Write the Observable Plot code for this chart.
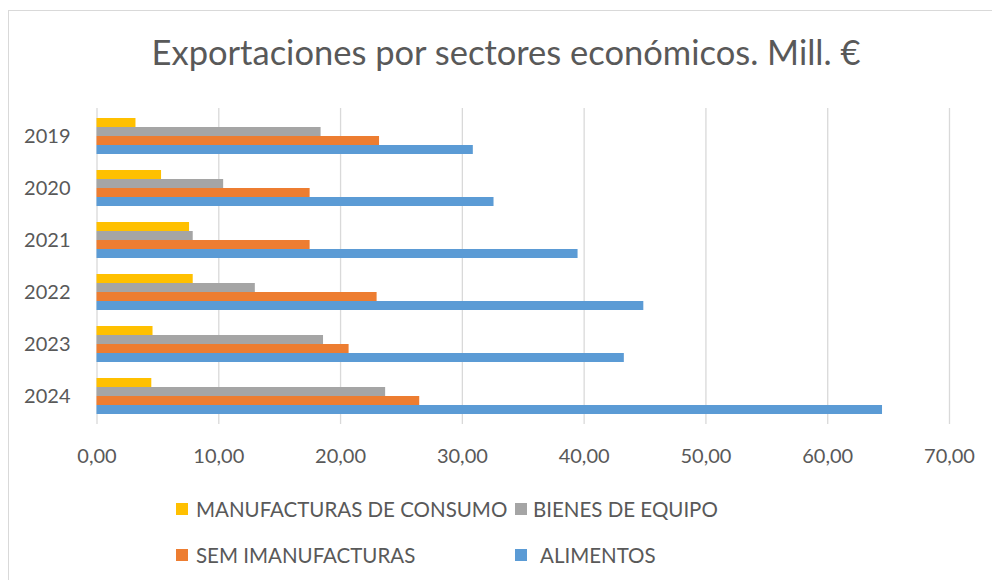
<!DOCTYPE html>
<html>
<head>
<meta charset="utf-8">
<script src="https://cdn.jsdelivr.net/npm/d3@7"></script>
<script src="https://cdn.jsdelivr.net/npm/@observablehq/plot@0.6"></script>
<style>
  html, body { margin: 0; padding: 0; background: #fff; }
  #wrap { position: relative; width: 992px; height: 580px; overflow: hidden; font-family: Lato, "Open Sans", sans-serif; color: #595959; }
  #frame { position: absolute; left: 8px; top: 10px; width: 1100px; height: 700px; border-left: 1.5px solid #d9d9d9; border-top: 1.5px solid #d9d9d9; box-sizing: border-box; }
  #title { position: absolute; left: 0; top: 35px; width: 1012px; text-align: center; font-size: 34.5px; line-height: 1; white-space: nowrap; }
  #chart { position: absolute; left: 0; top: 100px; }
  .lg { position: absolute; font-size: 20.5px; line-height: 1; white-space: nowrap; }
  .sw { position: absolute; width: 12px; height: 12px; }
</style>
</head>
<body>
<div id="wrap">
  <div id="frame"></div>
  <div id="title"></div>
  <div id="chart"></div>
  <div id="legend"></div>
</div>
<script>
const years = ["2019", "2020", "2021", "2022", "2023", "2024"];
const seriesNames = ["MANUFACTURAS DE CONSUMO", "BIENES DE EQUIPO", "SEM IMANUFACTURAS", "ALIMENTOS"];
const manufacturas = [3.2, 5.3, 7.6, 7.9, 4.6, 4.5];
const bienes = [18.4, 10.4, 7.9, 13.0, 18.6, 23.7];
const semimanufacturas = [23.2, 17.5, 17.5, 23.0, 20.7, 26.5];
const alimentos = [30.9, 32.6, 39.5, 44.9, 43.3, 64.5];
const seriesColors = ["#FFC000", "#A5A5A5", "#ED7D31", "#5B9BD5"];
const xTicks = [0, 10, 20, 30, 40, 50, 60, 70];
const titleText = "Exportaciones por sectores económicos. Mill. €";

const seriesValues = [manufacturas, bienes, semimanufacturas, alimentos];
const table = [];
seriesNames.forEach((s, i) => years.forEach((y, j) => table.push({year: y, series: s, value: seriesValues[i][j]})));

document.getElementById("title").textContent = titleText;

const barH = 9;
const chart = Plot.plot({
  width: 992,
  height: 380,
  marginTop: 8,
  marginBottom: 56,
  marginLeft: 96.5,
  marginRight: 43,
  style: {fontFamily: "Lato, 'Open Sans', sans-serif", color: "#595959", background: "transparent"},
  x: {domain: [0, 70], ticks: xTicks, label: null},
  y: {domain: years, paddingInner: 0.313, paddingOuter: 0.172, label: null},
  marks: [
    Plot.gridX(xTicks, {stroke: "#d9d9d9", strokeOpacity: 1, strokeWidth: 1.3}),
    ...seriesNames.map((s, i) => Plot.barX(table.filter(d => d.series === s), {
      x: "value", y: "year", fill: seriesColors[i],
      insetTop: i * barH, insetBottom: (3 - i) * barH
    })),
    Plot.axisX(xTicks, {tickSize: 0, tickPadding: 24, fontSize: 20, tickFormat: d => d.toFixed(2).replace(".", ","), label: null}),
    Plot.axisY({tickSize: 0, tickPadding: 26.5, fontSize: 20, label: null})
  ]
});
document.getElementById("chart").appendChild(chart);

// Legend
const legendPos = [
  {sx: 176, tx: 196, cy: 509},
  {sx: 515, tx: 533, cy: 509},
  {sx: 176, tx: 196, cy: 555},
  {sx: 515, tx: 540, cy: 555}
];
const lg = document.getElementById("legend");
seriesNames.forEach((s, i) => {
  const p = legendPos[i];
  const sw = document.createElement("div");
  sw.className = "sw";
  sw.style.left = p.sx + "px";
  sw.style.top = (p.cy - 6) + "px";
  sw.style.background = seriesColors[i];
  lg.appendChild(sw);
  const t = document.createElement("div");
  t.className = "lg";
  t.style.left = p.tx + "px";
  t.style.top = (p.cy - 10) + "px";
  t.textContent = s;
  lg.appendChild(t);
});
</script>
</body>
</html>
